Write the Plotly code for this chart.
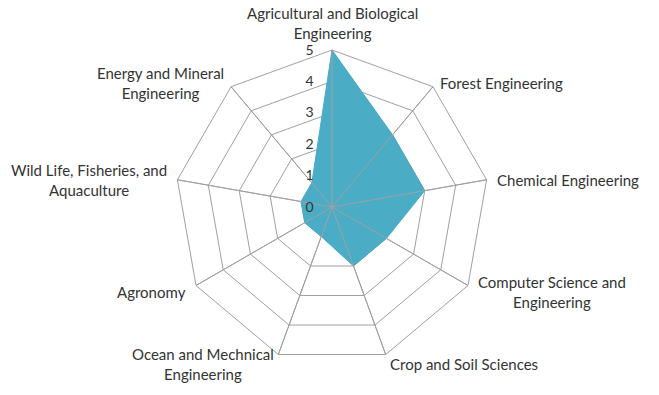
import math
import plotly.graph_objects as go

categories = [
    "Agricultural and Biological<br>Engineering",
    "Forest Engineering",
    "Chemical Engineering",
    "Computer Science and<br>Engineering",
    "Crop and Soil Sciences",
    "Ocean and Mechnical<br>Engineering",
    "Agronomy",
    "Wild Life, Fisheries, and<br>Aquaculture",
    "Energy and Mineral<br>Engineering",
]
values = [5, 3, 3, 2, 2, 1, 1, 1, 1]
radial_ticks = [0, 1, 2, 3, 4, 5]

W, H = 659, 395
GRID = "#a0a0a0"
FILL = "#4BACC6"
TEXT = "#333333"
FONT = "Lato"

# polar geometry (pixels)
CX, CY, R = 332, 207, 157
dom_x = [(CX - R) / W, (CX + R) / W]
dom_y = [(H - (CY + R)) / H, (H - (CY - R)) / H]

fig = go.Figure()
fig.add_trace(go.Scatterpolar(
    r=values + [values[0]],
    theta=categories + [categories[0]],
    mode="lines",
    fill="toself",
    fillcolor=FILL,
    line=dict(color=FILL, width=1),
    hoverinfo="skip",
    showlegend=False,
))

# spokes drawn above the fill
rmax = max(radial_ticks)
spoke_r, spoke_t = [], []
for c in categories:
    spoke_r += [0, rmax, None]
    spoke_t += [c, c, None]
fig.add_trace(go.Scatterpolar(
    r=spoke_r, theta=spoke_t, mode="lines",
    line=dict(color=GRID, width=1), hoverinfo="skip", showlegend=False,
))

# category labels placed just outside each outer vertex, lines centred
annotations = []
n = len(categories)
for i, c in enumerate(categories):
    th = math.radians(90 - i * 360 / n)
    co, si = math.cos(th), math.sin(th)
    vx, vy = CX + R * co, CY - R * si
    if abs(co) < 0.05:
        xa = "center"
        ya = "bottom" if si > 0 else "top"
        px, py = vx, vy - 7 if si > 0 else vy + 7
    else:
        xa = "left" if co > 0 else "right"
        ya = "middle"
        px, py = vx + 10 * co, vy - 8 * si + 2
    annotations.append(dict(
        text=c, x=px / W, y=1 - py / H, xref="paper", yref="paper",
        xanchor=xa, yanchor=ya, align="center", showarrow=False,
        borderpad=0, font=dict(family=FONT, size=15, color=TEXT),
    ))

fig.update_layout(
    width=W, height=H,
    margin=dict(l=0, r=0, t=0, b=0),
    paper_bgcolor="white",
    font=dict(family=FONT, size=15, color=TEXT),
    annotations=annotations,
    polar=dict(
        domain=dict(x=dom_x, y=dom_y),
        bgcolor="white",
        gridshape="linear",
        angularaxis=dict(
            direction="clockwise", rotation=90,
            categoryorder="array", categoryarray=categories,
            showline=True, linecolor=GRID, linewidth=1,
            gridcolor=GRID, gridwidth=1, ticks="", showticklabels=False,
        ),
        radialaxis=dict(
            range=[0, rmax], tickvals=radial_ticks,
            angle=90, tickangle=90, side="counterclockwise",
            showline=False, gridcolor=GRID, gridwidth=1,
            ticks="outside", ticklen=13, tickcolor="rgba(0,0,0,0)",
            tickfont=dict(family=FONT, size=14, color=TEXT),
        ),
    ),
)

fig.write_html(
    "out.html",
    config={"displayModeBar": False},
    post_script="document.body.style.margin='0';",
)
